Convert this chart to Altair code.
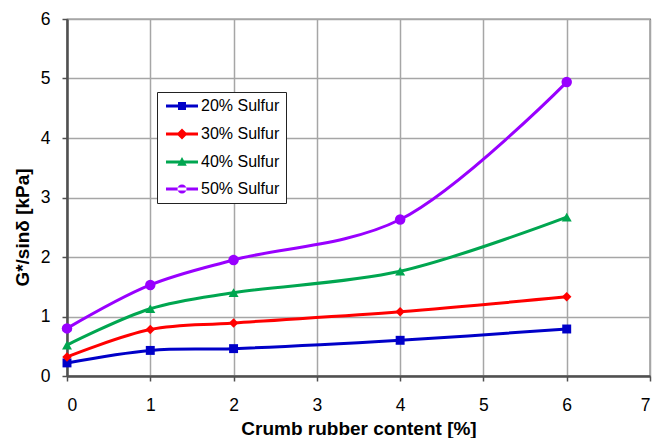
import altair as alt
import pandas as pd

# Crumb rubber content [%] on the x axis
rubber = [0, 1, 2, 4, 6]

# G*/sin(delta) [kPa] for each sulfur dosage
series = ["20% Sulfur", "30% Sulfur", "40% Sulfur", "50% Sulfur"]
s20 = [0.22, 0.43, 0.46, 0.60, 0.79]
s30 = [0.32, 0.78, 0.89, 1.08, 1.33]
s40 = [0.52, 1.13, 1.40, 1.76, 2.67]
s50 = [0.80, 1.53, 1.95, 2.63, 4.94]

colors = ["#0000C8", "#FF0000", "#00A650", "#9900FF"]
shapes = ["square", "diamond", "triangle-up", "circle"]
sizes = [80, 110, 90, 90]

rows = []
for name, vals in zip(series, [s20, s30, s40, s50]):
    for x, y in zip(rubber, vals):
        rows.append({"rubber": x, "g": y, "series": name})
df = pd.DataFrame(rows)

# legend symbols: a short bar with the series marker on it (unit path coords)
bar = "M-3.2,-0.3H3.2V0.3H-3.2Z"
legend_paths = [
    bar + "M-0.8,-0.8H0.8V0.8H-0.8Z",
    bar + "M0,-1.1L1.1,0L0,1.1L-1.1,0Z",
    bar + "M0,-1.0L0.95,0.75L-0.95,0.75Z",
    bar + "M-0.9,0A0.9,0.9 0 1,0 0.9,0A0.9,0.9 0 1,0 -0.9,0Z",
]

x_enc = alt.X(
    "rubber:Q",
    title="Crumb rubber content [%]",
    scale=alt.Scale(domain=[0, 7], nice=False, zero=False),
    axis=alt.Axis(values=list(range(0, 8))),
)
y_enc = alt.Y(
    "g:Q",
    title="G*/sinδ [kPa]",
    scale=alt.Scale(domain=[0, 6], nice=False),
    axis=alt.Axis(values=list(range(0, 7)), titleY=208),
)

legend_cfg = alt.Legend(
    orient="none",
    legendX=90,
    legendY=73,
    padding=6,
    symbolSize=100,
    symbolOffset=11,
    symbolOpacity=1,
    rowPadding=11,
    labelOffset=11,
    labelFont="Liberation Sans",
    labelFontSize=16,
    labelColor="#000000",
    strokeColor="#222222",
    fillColor="#FFFFFF",
)


def color_enc(legend=None):
    return alt.Color(
        "series:N",
        scale=alt.Scale(domain=series, range=colors),
        title=None,
        legend=legend,
    )


lines = alt.Chart(df).mark_line(interpolate="catmull-rom", strokeWidth=3).encode(
    x=x_enc,
    y=y_enc,
    color=color_enc(),
    detail="series:N",
)

points = alt.Chart(df).mark_point(filled=True, opacity=1).encode(
    x=x_enc,
    y=y_enc,
    color=color_enc(),
    shape=alt.Shape("series:N", scale=alt.Scale(domain=series, range=shapes), legend=None),
    size=alt.Size("series:N", scale=alt.Scale(domain=series, range=sizes), legend=None),
)

# transparent layer that only carries the legend (line + marker symbols)
legend_layer = alt.Chart(df).mark_point(filled=True, opacity=0, size=100).encode(
    x=x_enc,
    y=y_enc,
    color=color_enc(legend_cfg),
    shape=alt.Shape(
        "series:N",
        scale=alt.Scale(domain=series, range=legend_paths),
        title=None,
        legend=legend_cfg,
    ),
)

chart = (
    alt.layer(lines, points, legend_layer)
    .resolve_scale(color="independent", shape="independent", size="independent")
    .properties(
        width=583,
        height=357,
        autosize=alt.AutoSizeParams(type="none"),
        padding={"left": 67, "top": 19, "right": 6, "bottom": 62},
    )
    .configure_view(stroke="#000000", strokeWidth=1.2)
    .configure_axis(
        labelFont="Liberation Sans",
        labelFontSize=17.5,
        labelColor="#000000",
        titleFont="Liberation Sans",
        titleFontSize=19,
        titleFontWeight="bold",
        titleColor="#000000",
        gridColor="#A6A6A6",
        gridWidth=1.5,
        gridOpacity=1,
        domainColor="#505050",
        domainWidth=2.5,
        tickColor="#505050",
        tickSize=5,
        tickWidth=1.5,
    )
    .configure_axisX(labelPadding=15, titlePadding=6)
    .configure_axisY(labelPadding=12, titlePadding=8)
)

chart.save("out.html", embed_options={"renderer": "svg", "actions": False})
